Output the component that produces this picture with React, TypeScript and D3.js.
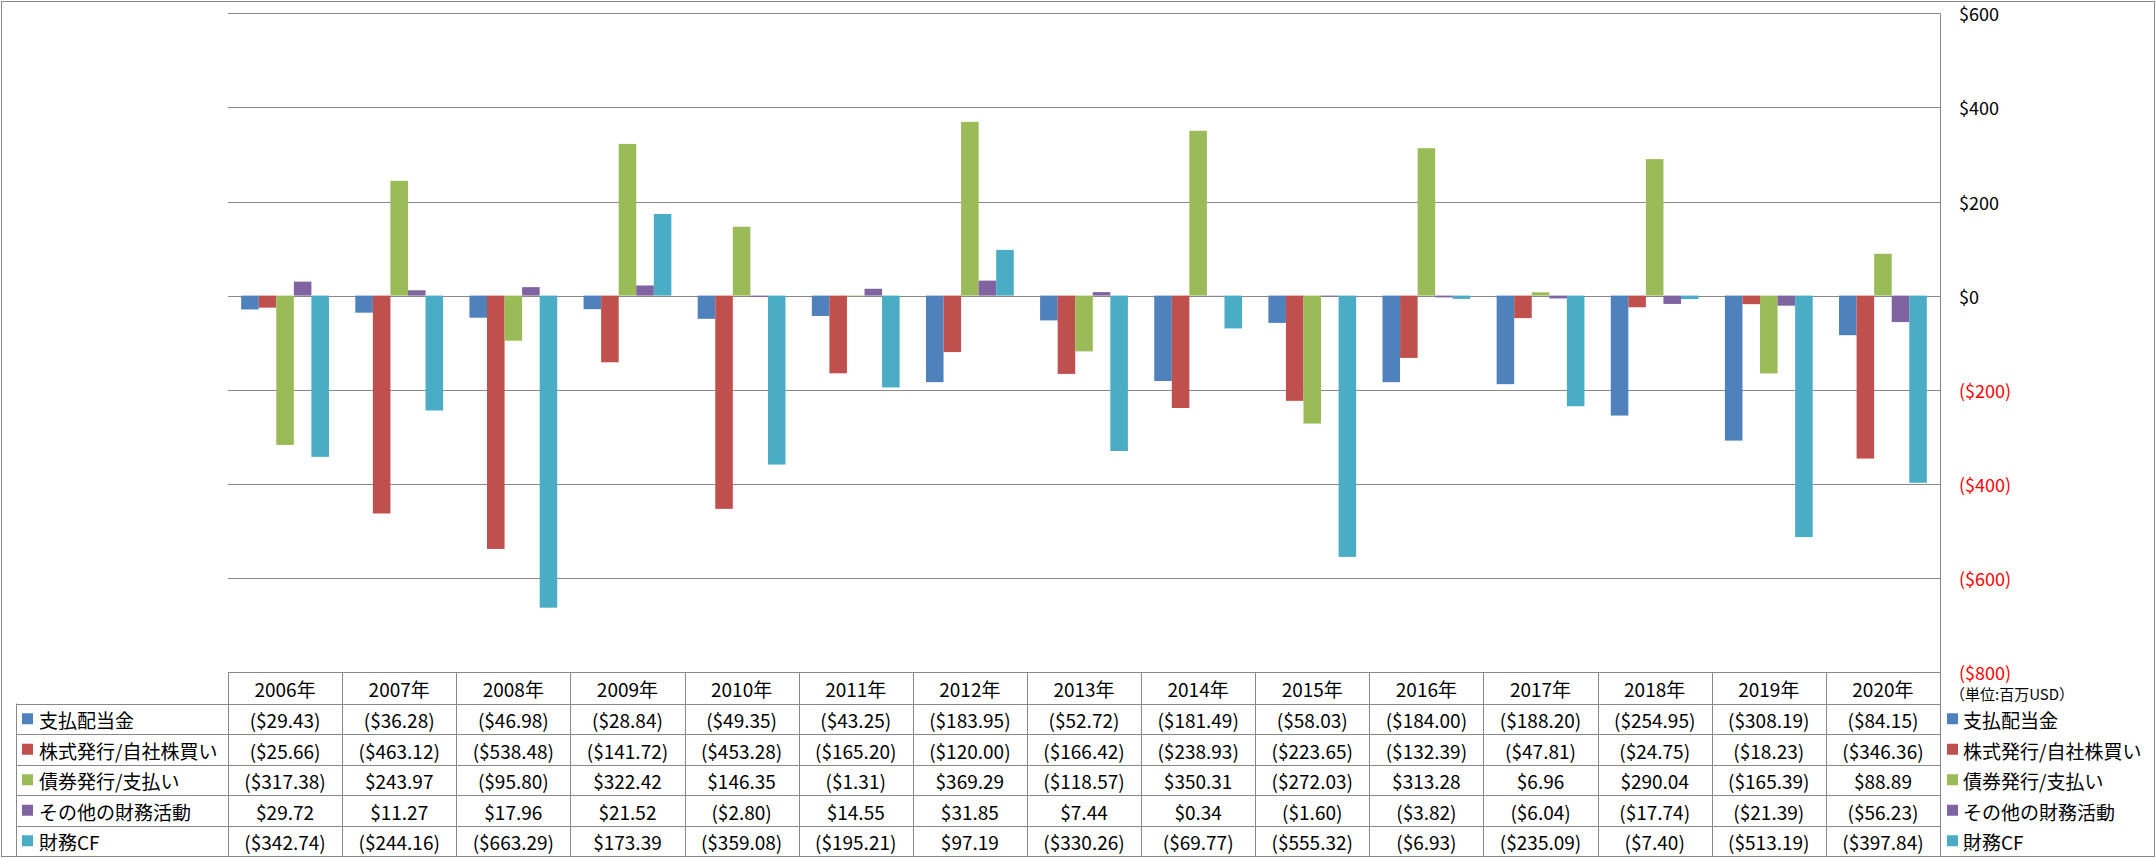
import { useEffect, useRef } from 'react';
import * as d3 from 'd3';

const years = ['2006年', '2007年', '2008年', '2009年', '2010年', '2011年', '2012年', '2013年', '2014年', '2015年', '2016年', '2017年', '2018年', '2019年', '2020年'];

const seriesNames = ['支払配当金', '株式発行/自社株買い', '債券発行/支払い', 'その他の財務活動', '財務CF'];
const seriesColors = ['#4F81BD', '#C0504D', '#9BBB59', '#8064A2', '#4BACC6'];

const dividends = [-29.43, -36.28, -46.98, -28.84, -49.35, -43.25, -183.95, -52.72, -181.49, -58.03, -184.0, -188.2, -254.95, -308.19, -84.15];
const stockIssue = [-25.66, -463.12, -538.48, -141.72, -453.28, -165.2, -120.0, -166.42, -238.93, -223.65, -132.39, -47.81, -24.75, -18.23, -346.36];
const bondIssue = [-317.38, 243.97, -95.8, 322.42, 146.35, -1.31, 369.29, -118.57, 350.31, -272.03, 313.28, 6.96, 290.04, -165.39, 88.89];
const otherFinancing = [29.72, 11.27, 17.96, 21.52, -2.8, 14.55, 31.85, 7.44, 0.34, -1.6, -3.82, -6.04, -17.74, -21.39, -56.23];
const financingCF = [-342.74, -244.16, -663.29, 173.39, -359.08, -195.21, 97.19, -330.26, -69.77, -555.32, -6.93, -235.09, -7.4, -513.19, -397.84];

const yTicks = [600, 400, 200, 0, -200, -400, -600, -800];
const unitLabel = '（単位:百万USD）';

const seriesValues = [dividends, stockIssue, bondIssue, otherFinancing, financingCF];

const FONT = '"Noto Sans CJK JP", "Noto Sans", sans-serif';
const GRID = '#898989';

const fmtMoney = (v: number, digits: number) => {
  const s = '$' + Math.abs(v).toFixed(digits);
  return v < 0 ? `(${s})` : s;
};

const App = () => {
  const svgRef = useRef<SVGSVGElement | null>(null);

  useEffect(() => {
    const width = 2156;
    const height = 858;

    const svg = d3.select(svgRef.current);
    svg.selectAll('*').remove();
    svg.attr('width', width).attr('height', height);

    const left = 228;
    const right = 1940;
    const top = 13.3;
    const tableTop = 672;
    const headerH = 31.5;
    const rowH = 30.5;

    // outer frame
    svg.append('rect')
      .attr('x', 1.5).attr('y', 1.5)
      .attr('width', width - 3).attr('height', height - 3)
      .attr('fill', 'white')
      .attr('stroke', GRID)
      .attr('stroke-width', 1);

    const x = d3.scaleBand<string>().domain(years).range([left, right]).padding(0);
    const xInner = d3.scaleBand<number>()
      .domain(d3.range(seriesNames.length))
      .range([0, x.bandwidth()])
      .paddingInner(0)
      .paddingOuter(0.75);
    const y = d3.scaleLinear().domain([-800, 600]).range([tableTop, top]);

    // gridlines
    svg.append('g')
      .selectAll('line')
      .data(yTicks)
      .enter()
      .append('line')
      .attr('x1', left).attr('x2', right)
      .attr('y1', d => Math.round(y(d)) + 0.5)
      .attr('y2', d => Math.round(y(d)) + 0.5)
      .attr('stroke', GRID)
      .attr('stroke-width', 1);

    // bars
    seriesValues.forEach((vals, si) => {
      svg.append('g')
        .selectAll('rect')
        .data(vals)
        .enter()
        .append('rect')
        .attr('x', (_, i) => (x(years[i]) as number) + (xInner(si) as number))
        .attr('width', xInner.bandwidth())
        .attr('y', d => y(Math.max(0, d)))
        .attr('height', d => Math.abs(y(d) - y(0)))
        .attr('fill', seriesColors[si]);
    });

    // right axis line
    svg.append('line')
      .attr('x1', right + 0.5).attr('x2', right + 0.5)
      .attr('y1', top).attr('y2', height - 2)
      .attr('stroke', GRID);

    // right axis labels
    svg.append('g')
      .selectAll('text')
      .data(yTicks)
      .enter()
      .append('text')
      .attr('x', 1959)
      .attr('y', d => y(d))
      .attr('dominant-baseline', 'central')
      .style('font-family', FONT)
      .style('font-size', '18px')
      .style('fill', d => (d < 0 ? '#FF0000' : '#000'))
      .text(d => fmtMoney(d, 0));

    svg.append('text')
      .attr('x', 1950)
      .attr('y', 693)
      .attr('dominant-baseline', 'central')
      .style('font-family', FONT)
      .style('font-size', '15px')
      .text(unitLabel);

    // data table
    const table = svg.append('g');
    const rowTop = tableTop + headerH;
    const bottom = rowTop + rowH * seriesNames.length;

    // horizontal lines
    table.append('line')
      .attr('x1', left).attr('x2', right)
      .attr('y1', tableTop + 0.5).attr('y2', tableTop + 0.5)
      .attr('stroke', GRID);
    d3.range(seriesNames.length + 1).forEach(i => {
      const yy = Math.round(rowTop + i * rowH) + 0.5;
      table.append('line')
        .attr('x1', 16).attr('x2', right)
        .attr('y1', yy).attr('y2', yy)
        .attr('stroke', GRID);
    });
    // vertical lines
    table.append('line')
      .attr('x1', 16.5).attr('x2', 16.5)
      .attr('y1', rowTop).attr('y2', bottom)
      .attr('stroke', GRID);
    years.forEach(yr => {
      const xx = Math.round(x(yr) as number) + 0.5;
      table.append('line')
        .attr('x1', xx).attr('x2', xx)
        .attr('y1', tableTop).attr('y2', bottom)
        .attr('stroke', GRID);
    });

    // header
    table.selectAll('text.year')
      .data(years)
      .enter()
      .append('text')
      .attr('class', 'year')
      .attr('x', d => (x(d) as number) + x.bandwidth() / 2)
      .attr('y', tableTop + headerH / 2 + 1)
      .attr('text-anchor', 'middle')
      .attr('dominant-baseline', 'central')
      .style('font-family', FONT)
      .style('font-size', '19px')
      .text(d => d);

    seriesNames.forEach((name, si) => {
      const cy = rowTop + si * rowH + rowH / 2 + 1;

      // row key + name (table)
      table.append('rect')
        .attr('x', 22).attr('y', cy - 6.5)
        .attr('width', 11).attr('height', 11)
        .attr('fill', seriesColors[si]);
      table.append('text')
        .attr('x', 39).attr('y', cy)
        .attr('dominant-baseline', 'central')
        .style('font-family', FONT)
        .style('font-size', '19px')
        .text(name);

      // values
      table.append('g')
        .selectAll('text')
        .data(seriesValues[si])
        .enter()
        .append('text')
        .attr('x', (_, i) => (x(years[i]) as number) + x.bandwidth() / 2)
        .attr('y', cy)
        .attr('text-anchor', 'middle')
        .attr('dominant-baseline', 'central')
        .style('font-family', FONT)
        .style('font-size', '19px')
        .text(d => fmtMoney(d, 2));

      // legend on right
      const legendRow = svg.append('g');
      legendRow.append('rect')
        .attr('x', 1947).attr('y', cy - 6.5)
        .attr('width', 11).attr('height', 11)
        .attr('fill', seriesColors[si]);
      legendRow.append('text')
        .attr('x', 1963).attr('y', cy)
        .attr('dominant-baseline', 'central')
        .style('font-family', FONT)
        .style('font-size', '19px')
        .text(name);
    });
  }, []);

  return <svg ref={svgRef} style={{ position: 'absolute', left: 0, top: 0, display: 'block' }}></svg>;
};

export default App;
